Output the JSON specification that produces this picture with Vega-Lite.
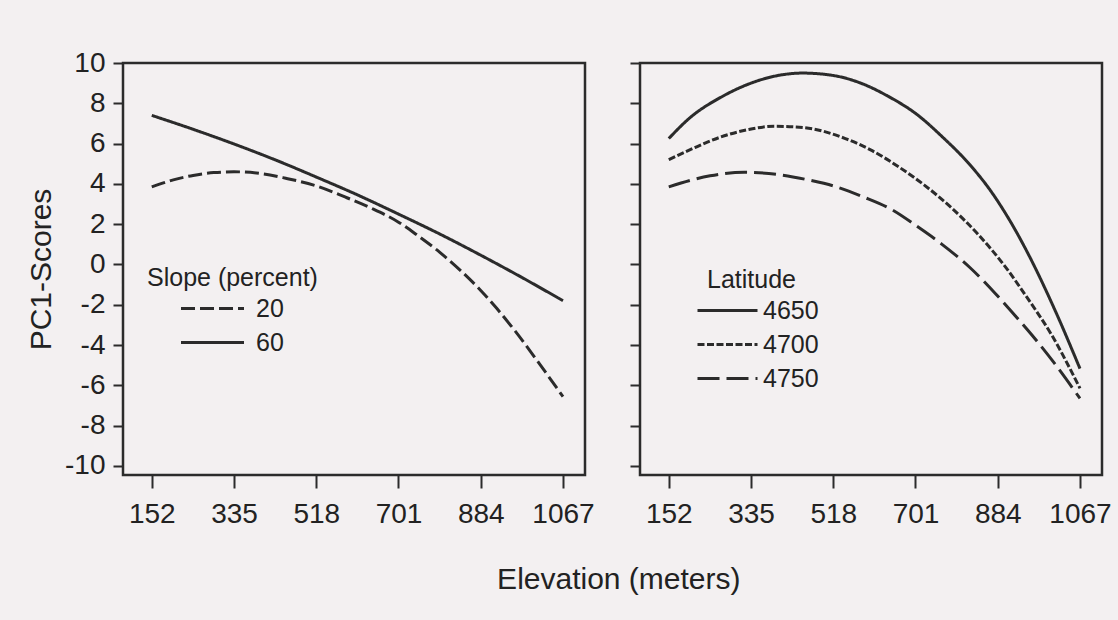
{
  "$schema": "https://vega.github.io/schema/vega-lite/v6.json",
  "background": "#f3f0f1",
  "padding": {"left": 25, "top": 47, "right": 12, "bottom": 30},
  "datasets": {
    "slope": [
      {"elev": 152, "score": 7.4, "slope": "60"},
      {"elev": 244, "score": 6.71, "slope": "60"},
      {"elev": 335, "score": 5.98, "slope": "60"},
      {"elev": 427, "score": 5.19, "slope": "60"},
      {"elev": 518, "score": 4.34, "slope": "60"},
      {"elev": 610, "score": 3.45, "slope": "60"},
      {"elev": 701, "score": 2.5, "slope": "60"},
      {"elev": 793, "score": 1.51, "slope": "60"},
      {"elev": 884, "score": 0.46, "slope": "60"},
      {"elev": 976, "score": -0.65, "slope": "60"},
      {"elev": 1067, "score": -1.8, "slope": "60"},
      {"elev": 152, "score": 3.85, "slope": "20"},
      {"elev": 200, "score": 4.2, "slope": "20"},
      {"elev": 244, "score": 4.42, "slope": "20"},
      {"elev": 290, "score": 4.56, "slope": "20"},
      {"elev": 335, "score": 4.6, "slope": "20"},
      {"elev": 400, "score": 4.5, "slope": "20"},
      {"elev": 450, "score": 4.28, "slope": "20"},
      {"elev": 518, "score": 3.9, "slope": "20"},
      {"elev": 582, "score": 3.35, "slope": "20"},
      {"elev": 640, "score": 2.8, "slope": "20"},
      {"elev": 701, "score": 2.1, "slope": "20"},
      {"elev": 740, "score": 1.5, "slope": "20"},
      {"elev": 793, "score": 0.6, "slope": "20"},
      {"elev": 840, "score": -0.32, "slope": "20"},
      {"elev": 884, "score": -1.29, "slope": "20"},
      {"elev": 920, "score": -2.19, "slope": "20"},
      {"elev": 960, "score": -3.29, "slope": "20"},
      {"elev": 1010, "score": -4.79, "slope": "20"},
      {"elev": 1067, "score": -6.56, "slope": "20"}
    ],
    "lat": [
      {"elev": 152, "score": 6.25, "latitude": "4650"},
      {"elev": 200, "score": 7.3, "latitude": "4650"},
      {"elev": 268, "score": 8.3, "latitude": "4650"},
      {"elev": 335, "score": 9.0, "latitude": "4650"},
      {"elev": 400, "score": 9.4, "latitude": "4650"},
      {"elev": 450, "score": 9.5, "latitude": "4650"},
      {"elev": 518, "score": 9.38, "latitude": "4650"},
      {"elev": 585, "score": 8.95, "latitude": "4650"},
      {"elev": 640, "score": 8.35, "latitude": "4650"},
      {"elev": 704, "score": 7.45, "latitude": "4650"},
      {"elev": 760, "score": 6.35, "latitude": "4650"},
      {"elev": 822, "score": 4.95, "latitude": "4650"},
      {"elev": 870, "score": 3.6, "latitude": "4650"},
      {"elev": 909, "score": 2.25, "latitude": "4650"},
      {"elev": 950, "score": 0.6, "latitude": "4650"},
      {"elev": 1012, "score": -2.3, "latitude": "4650"},
      {"elev": 1067, "score": -5.17, "latitude": "4650"},
      {"elev": 152, "score": 5.2, "latitude": "4700"},
      {"elev": 210, "score": 5.8, "latitude": "4700"},
      {"elev": 268, "score": 6.33, "latitude": "4700"},
      {"elev": 330, "score": 6.7, "latitude": "4700"},
      {"elev": 387, "score": 6.86, "latitude": "4700"},
      {"elev": 450, "score": 6.8, "latitude": "4700"},
      {"elev": 545, "score": 6.25, "latitude": "4700"},
      {"elev": 600, "score": 5.7, "latitude": "4700"},
      {"elev": 664, "score": 4.84, "latitude": "4700"},
      {"elev": 720, "score": 3.95, "latitude": "4700"},
      {"elev": 783, "score": 2.77, "latitude": "4700"},
      {"elev": 840, "score": 1.5, "latitude": "4700"},
      {"elev": 901, "score": -0.12, "latitude": "4700"},
      {"elev": 948, "score": -1.6, "latitude": "4700"},
      {"elev": 1004, "score": -3.5, "latitude": "4700"},
      {"elev": 1067, "score": -6.15, "latitude": "4700"},
      {"elev": 152, "score": 3.85, "latitude": "4750"},
      {"elev": 244, "score": 4.4, "latitude": "4750"},
      {"elev": 320, "score": 4.58, "latitude": "4750"},
      {"elev": 400, "score": 4.45, "latitude": "4750"},
      {"elev": 466, "score": 4.18, "latitude": "4750"},
      {"elev": 518, "score": 3.9, "latitude": "4750"},
      {"elev": 585, "score": 3.35, "latitude": "4750"},
      {"elev": 650, "score": 2.7, "latitude": "4750"},
      {"elev": 704, "score": 1.9, "latitude": "4750"},
      {"elev": 760, "score": 1.0, "latitude": "4750"},
      {"elev": 822, "score": -0.15, "latitude": "4750"},
      {"elev": 877, "score": -1.4, "latitude": "4750"},
      {"elev": 918, "score": -2.42, "latitude": "4750"},
      {"elev": 960, "score": -3.5, "latitude": "4750"},
      {"elev": 1010, "score": -4.9, "latitude": "4750"},
      {"elev": 1067, "score": -6.65, "latitude": "4750"}
    ]
  },
  "title": {
    "text": "Elevation (meters)",
    "orient": "bottom",
    "anchor": "middle",
    "frame": "bounds",
    "offset": 36,
    "dx": 50,
    "fontSize": 30,
    "fontWeight": "normal",
    "font": "Liberation Sans",
    "color": "#222222"
  },
  "spacing": 31,
  "resolve": {"scale": {"strokeDash": "independent"}, "legend": {"strokeDash": "independent"}},
  "hconcat": [
    {
      "width": 462,
      "height": 412,
      "data": {"name": "slope"},
      "mark": {"type": "line", "strokeWidth": 3, "color": "#2b2b2b", "interpolate": "monotone"},
      "encoding": {
        "x": {
          "field": "elev", "type": "quantitative",
          "scale": {"domain": [88, 1116], "nice": false, "zero": false},
          "axis": {"values": [152, 335, 518, 701, 884, 1067], "labelExpr": "'' + datum.value", "title": null, "tickSize": 13, "labelPadding": 12}
        },
        "y": {
          "field": "score", "type": "quantitative",
          "scale": {"domain": [-10.45, 10], "nice": false, "zero": false},
          "axis": {"values": [-10, -8, -6, -4, -2, 0, 2, 4, 6, 8, 10], "labelExpr": "'' + datum.value", "title": "PC1-Scores", "tickSize": 10, "labelPadding": 8, "titlePadding": 8}
        },
        "strokeDash": {
          "field": "slope", "type": "nominal",
          "scale": {"domain": ["20", "60"], "range": [[14, 5], [1, 0]]},
          "legend": {
            "title": "Slope (percent)",
            "orient": "none", "legendX": 24, "legendY": 203,
            "symbolType": "M-2,0H2", "symbolSize": 992, "symbolOffset": 48, "labelOffset": 26,
            "rowPadding": 3, "titlePadding": 0
          }
        }
      }
    },
    {
      "width": 462,
      "height": 412,
      "data": {"name": "lat"},
      "mark": {"type": "line", "strokeWidth": 3, "color": "#2b2b2b", "interpolate": "monotone"},
      "encoding": {
        "x": {
          "field": "elev", "type": "quantitative",
          "scale": {"domain": [88, 1116], "nice": false, "zero": false},
          "axis": {"values": [152, 335, 518, 701, 884, 1067], "labelExpr": "'' + datum.value", "title": null, "tickSize": 13, "labelPadding": 12}
        },
        "y": {
          "field": "score", "type": "quantitative",
          "scale": {"domain": [-10.45, 10], "nice": false, "zero": false},
          "axis": {"values": [-10, -8, -6, -4, -2, 0, 2, 4, 6, 8, 10], "title": null, "labels": false, "tickSize": 10}
        },
        "strokeDash": {
          "field": "latitude", "type": "nominal",
          "scale": {"domain": ["4650", "4700", "4750"], "range": [[1, 0], [7, 2.5], [22, 7]]},
          "legend": {
            "title": "Latitude",
            "orient": "none", "legendX": 67, "legendY": 205,
            "symbolType": "M-2,0H2", "symbolSize": 900, "symbolOffset": 4, "labelOffset": 19,
            "rowPadding": 4, "titlePadding": 1
          }
        }
      }
    }
  ],
  "config": {
    "font": "Liberation Sans",
    "view": {"stroke": "#2b2b2b", "strokeWidth": 2.5, "fill": null},
    "axis": {
      "domain": false, "grid": false,
      "tickColor": "#2b2b2b", "tickWidth": 2,
      "labelFont": "Liberation Sans", "labelFontSize": 28, "labelColor": "#222222",
      "labelFlush": false, "labelOverlap": false,
      "titleFont": "Liberation Sans", "titleFontSize": 30, "titleFontWeight": "normal", "titleColor": "#222222"
    },
    "legend": {
      "padding": 0,
      "symbolStrokeWidth": 3, "symbolStrokeColor": "#2b2b2b", "symbolFillColor": "transparent",
      "titleFont": "Liberation Sans", "titleFontSize": 25, "titleFontWeight": "normal", "titleColor": "#222222", "titleLimit": 400,
      "labelFont": "Liberation Sans", "labelFontSize": 25, "labelColor": "#222222"
    }
  }
}
